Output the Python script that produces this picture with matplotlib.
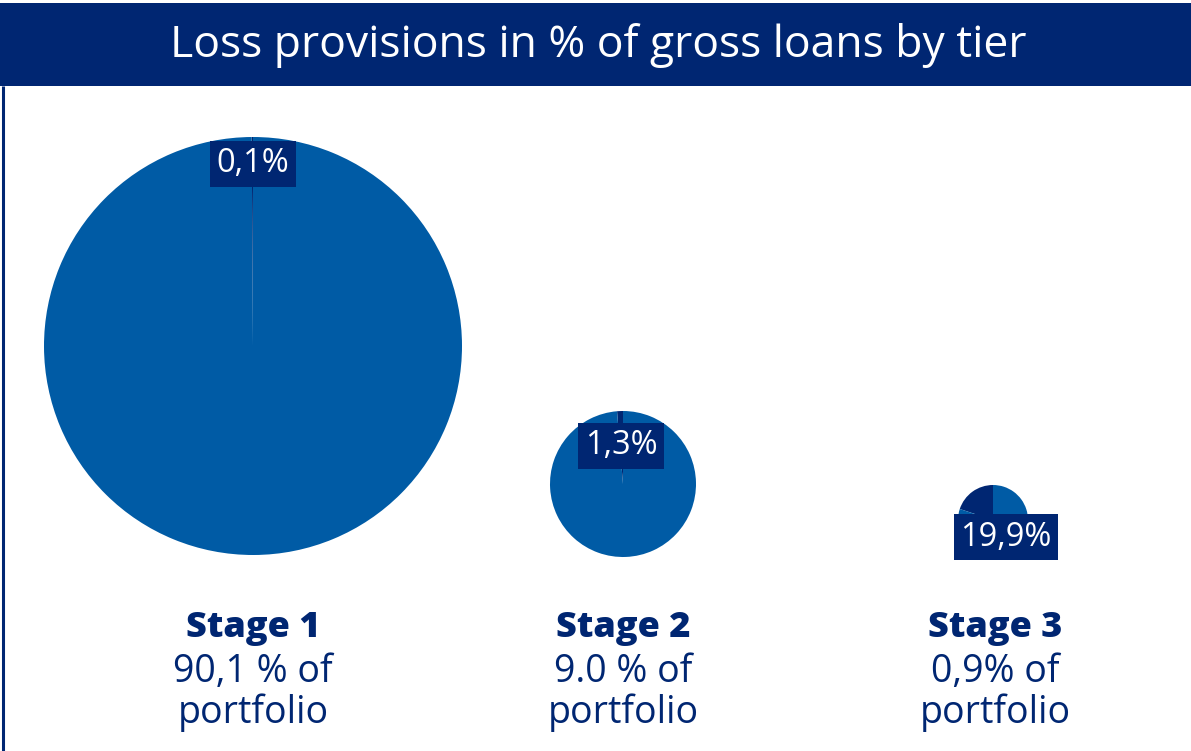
import matplotlib.pyplot as plt
from matplotlib.patches import Rectangle

plt.rcParams['font.family'] = ['Open Sans', 'DejaVu Sans']

W, H = 1191, 751
NAVY = '#002672'
BLUE = '#005BA5'

# loss provisions per tier and share of portfolio
stages = ['Stage 1', 'Stage 2', 'Stage 3']
provision_pct = [0.1, 1.3, 19.9]
provision_txt = ['0,1%', '1,3%', '19,9%']
portfolio_txt = ['90,1 % of', '9.0 % of', '0,9% of']

# pie placement in pixels (x, y from top, radius)
centers = [(253, 346), (623, 484), (993, 520)]
radii = [209, 73, 35]
label_pos = [(253, 164), (621, 446), (1006, 537)]
text_x = [253, 623, 995]

fig = plt.figure(figsize=(W / 100, H / 100), dpi=100)
ax = fig.add_axes([0, 0, 1, 1])
ax.set_xlim(0, W)
ax.set_ylim(0, H)
ax.set_aspect('equal')
ax.axis('off')

# header bar and left frame line
ax.add_patch(Rectangle((0, H - 86), W, 83, facecolor=NAVY, edgecolor='none'))
ax.plot([2.5, 2.5], [0, H - 86], color=NAVY, lw=2.2, solid_capstyle='butt')
ax.text(598, H - 45, 'Loss provisions in % of gross loans by tier',
        color='white', fontsize=32, ha='center', va='center')

for i in range(3):
    cx, cy = centers[i]
    p = provision_pct[i]
    ax.pie([p, 100 - p], colors=[NAVY, BLUE], startangle=90,
           counterclock=True, center=(cx, H - cy), radius=radii[i],
           wedgeprops=dict(linewidth=0), frame=True)
    lx, ly = label_pos[i]
    ax.text(lx, H - ly, provision_txt[i], color='white', fontsize=23.5,
            ha='center', va='center',
            bbox=dict(facecolor=NAVY, edgecolor='none', pad=4.5))
    ax.text(text_x[i], H - 637, stages[i], color=NAVY, fontsize=26,
            fontweight='heavy', ha='center', va='baseline')
    ax.text(text_x[i], H - 682, portfolio_txt[i], color=NAVY, fontsize=27,
            ha='center', va='baseline')
    ax.text(text_x[i], H - 723, 'portfolio', color=NAVY, fontsize=27,
            ha='center', va='baseline')

ax.set_xlim(0, W)
ax.set_ylim(0, H)
ax.axis('off')
fig.savefig('out.png', dpi=100)
